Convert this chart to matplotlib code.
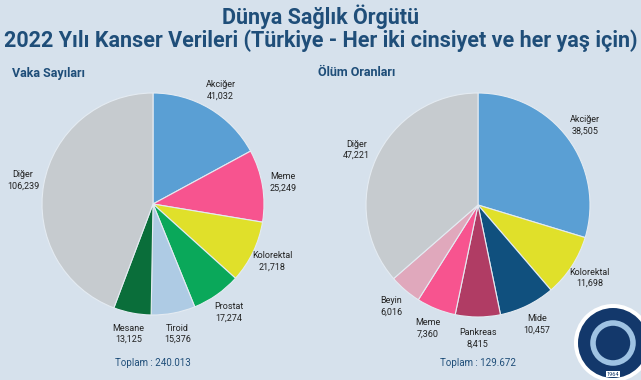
import matplotlib
matplotlib.use('Agg')
import matplotlib.pyplot as plt
from matplotlib.patches import Circle

matplotlib.rcParams['font.family'] = ['Roboto', 'DejaVu Sans']

# data
vaka_labels = ['Akciğer', 'Meme', 'Kolorektal', 'Prostat', 'Tiroid', 'Mesane', 'Diğer']
vaka_values = [41032, 25249, 21718, 17274, 15376, 13125, 106239]
vaka_colors = ['#5a9fd4', '#f7548f', '#e0e02a', '#0aa85a', '#aecbe4', '#0a6e3a', '#c6cbcf']

olum_labels = ['Akciğer', 'Kolorektal', 'Mide', 'Pankreas', 'Meme', 'Beyin', 'Diğer']
olum_values = [38505, 11698, 10457, 8415, 7360, 6016, 47221]
olum_colors = ['#5a9fd4', '#e0e02a', '#10507e', '#b03c64', '#f7548f', '#e0a8bc', '#c6cbcf']

BG = '#d6e1ec'
NAVY = '#1f4e79'
W, H = 641, 380

fig = plt.figure(figsize=(W/100, H/100), dpi=100, facecolor=BG)

fig.text(0.5, 1 - 17/H, 'Dünya Sağlık Örgütü', ha='center', va='center',
         fontsize=15.5, fontweight='bold', color=NAVY)
fig.text(0.5, 1 - 41/H, '2022 Yılı Kanser Verileri (Türkiye - Her iki cinsiyet ve her yaş için)',
         ha='center', va='center', fontsize=15.5, fontweight='bold', color=NAVY)


def draw_pie(cx, cy, r, labels, values, colors, title, tx, total):
    ax = fig.add_axes([(cx - r)/W, (H - cy - r)/H, 2*r/W, 2*r/H])
    ax.set_facecolor(BG)
    txt = ['{}\n{:,}'.format(l, v) for l, v in zip(labels, values)]
    wedges, texts = ax.pie(values, labels=txt, colors=colors, startangle=90,
                           counterclock=False, labeldistance=1.19,
                           wedgeprops=dict(edgecolor='#e4ebf2', linewidth=0.8),
                           textprops=dict(fontsize=6.5, color='#222222', linespacing=1.35))
    for t in texts:
        t.set_ha('center')
        t.set_va('center')
    ax.set_xlim(-1, 1)
    ax.set_ylim(-1, 1)
    ax.axis('off')
    fig.text(tx/W, 1 - 73/H, title, ha='left', va='center', fontsize=9,
             fontweight='bold', color=NAVY)
    fig.text(cx/W, 1 - 363/H, 'Toplam : ' + total, ha='center', va='center',
             fontsize=7, color=NAVY)


draw_pie(153, 204, 111, vaka_labels, vaka_values, vaka_colors, 'Vaka Sayıları', 12, '240.013')
draw_pie(478, 205, 112, olum_labels, olum_values, olum_colors, 'Ölüm Oranları', 318, '129.672')

# logo (rough stand-in)
lax = fig.add_axes([0, 0, 1, 1], facecolor='none')
lax.set_xlim(0, W)
lax.set_ylim(H, 0)
lax.axis('off')
lax.add_patch(Circle((613, 343), 39, facecolor='white', edgecolor='none'))
lax.add_patch(Circle((613, 343), 35, facecolor='#13386b', edgecolor='none'))
lax.add_patch(Circle((613, 343), 20, facecolor='none', edgecolor='#9fc3e3', linewidth=4))
lax.text(613, 374, '1964', ha='center', va='center', fontsize=4, color='#13386b',
         bbox=dict(facecolor='white', edgecolor='none', pad=0.5))

fig.savefig('out.png', dpi=100, facecolor=BG)
